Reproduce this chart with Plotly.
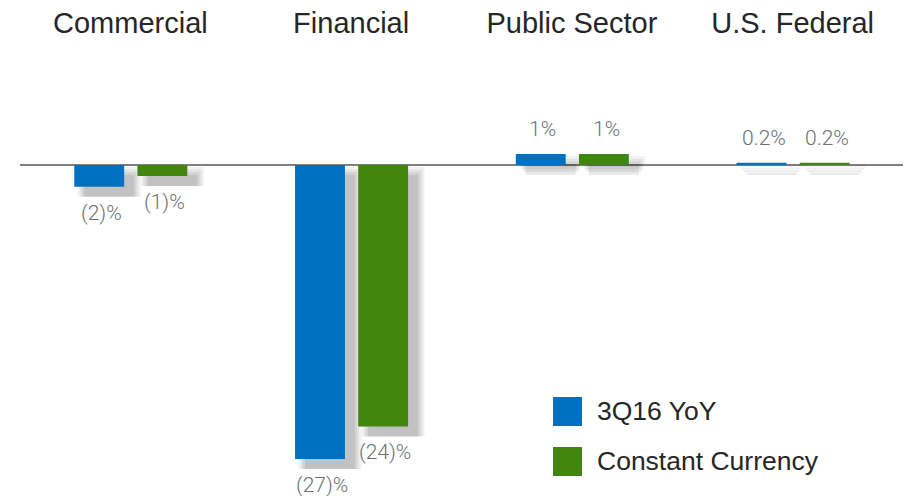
import plotly.graph_objects as go

# segment results, 3Q16
categories = ["Commercial", "Financial", "Public Sector", "U.S. Federal"]
yoy = [-2, -27, 1, 0.2]
constant_currency = [-1, -24, 1, 0.2]
series_names = ["3Q16 YoY", "Constant Currency"]

BLUE = "#0070C0"
GREEN = "#41860E"
LABEL_GRAY = "#6B7075"
TEXT_DARK = "#262626"

# bar geometry in category units (one category = 1.0)
BAR_W = 0.226
OFFSETS = [-0.254, 0.032]
SHADOW_DX = 0.045   # ~10px right
SHADOW_DY = 0.92    # ~10px down, in % units


def fmt(v):
    return f"({abs(v):g})%" if v < 0 else f"{v:g}%"


fig = go.Figure()
xs = list(range(len(categories)))

#soft drop shadows first so the bars sit on top
for vals, off in zip([yoy, constant_currency], OFFSETS):
    for grow, alpha in [(0.03, 0.05), (0.02, 0.06), (0.01, 0.07), (0.0, 0.08)]:
        fig.add_trace(go.Bar(
            x=xs, y=[v - grow * 25 if v < 0 else v for v in vals],
            base=[-SHADOW_DY + grow * 25 for v in vals],
            width=BAR_W + 2 * grow, offset=off + SHADOW_DX - grow,
            marker=dict(color=f"rgba(0,0,0,{alpha})", line=dict(width=0)),
            hoverinfo="skip", showlegend=False,
        ))

for vals, off, col, name in zip([yoy, constant_currency], OFFSETS, [BLUE, GREEN], series_names):
    fig.add_trace(go.Bar(
        x=xs, y=vals, width=BAR_W, offset=off, name=name,
        marker=dict(color=col, line=dict(width=0)),
    ))
    for i, v in enumerate(vals):
        fig.add_annotation(
            x=i + off + BAR_W / 2 + 0.01, y=v, xref="x", yref="y",
            text=fmt(v), showarrow=False,
            yanchor="top" if v < 0 else "bottom",
            yshift=-12 if v < 0 else 11,
            font=dict(family="Roboto", size=21, color=LABEL_GRAY, weight=300),
        )

#legend drawn by hand so the swatches can be large
legend_rows = [(BLUE, series_names[0], 0.2163), (GREEN, series_names[1], 0.1)]
for col, name, ytop in legend_rows:
    fig.add_shape(type="rect", xref="paper", yref="paper",
                  x0=0.6036, x1=0.6365, y0=ytop - 0.0674, y1=ytop,
                  fillcolor=col, line=dict(width=0))
    fig.add_annotation(x=0.6512, y=ytop - 0.0337, xref="paper", yref="paper",
                       text=name, showarrow=False, xanchor="left", yanchor="middle",
                       font=dict(family="Liberation Sans", size=26.5, color=TEXT_DARK))

fig.update_layout(
    width=907, height=496,
    margin=dict(l=20, r=4, t=60, b=6),
    barmode="overlay",
    plot_bgcolor="white", paper_bgcolor="white",
    showlegend=False,
)
fig.update_xaxes(
    side="top", tickmode="array", tickvals=xs, ticktext=categories,
    range=[-0.5, 3.5], showgrid=False, showline=False, ticks="",
    tickfont=dict(family="Liberation Sans", size=29, color=TEXT_DARK),
    ticklabelstandoff=20, automargin=False,
)
fig.update_yaxes(
    range=[-29.84, 9.64], showgrid=False, showticklabels=False, ticks="",
    zeroline=True, zerolinecolor="#808080", zerolinewidth=2, automargin=False,
)

# page body has a default 8px margin; drop it so the figure sits at the corner
fig.write_html("out.html", config={"displayModeBar": False},
               post_script="document.body.style.margin='0';")
